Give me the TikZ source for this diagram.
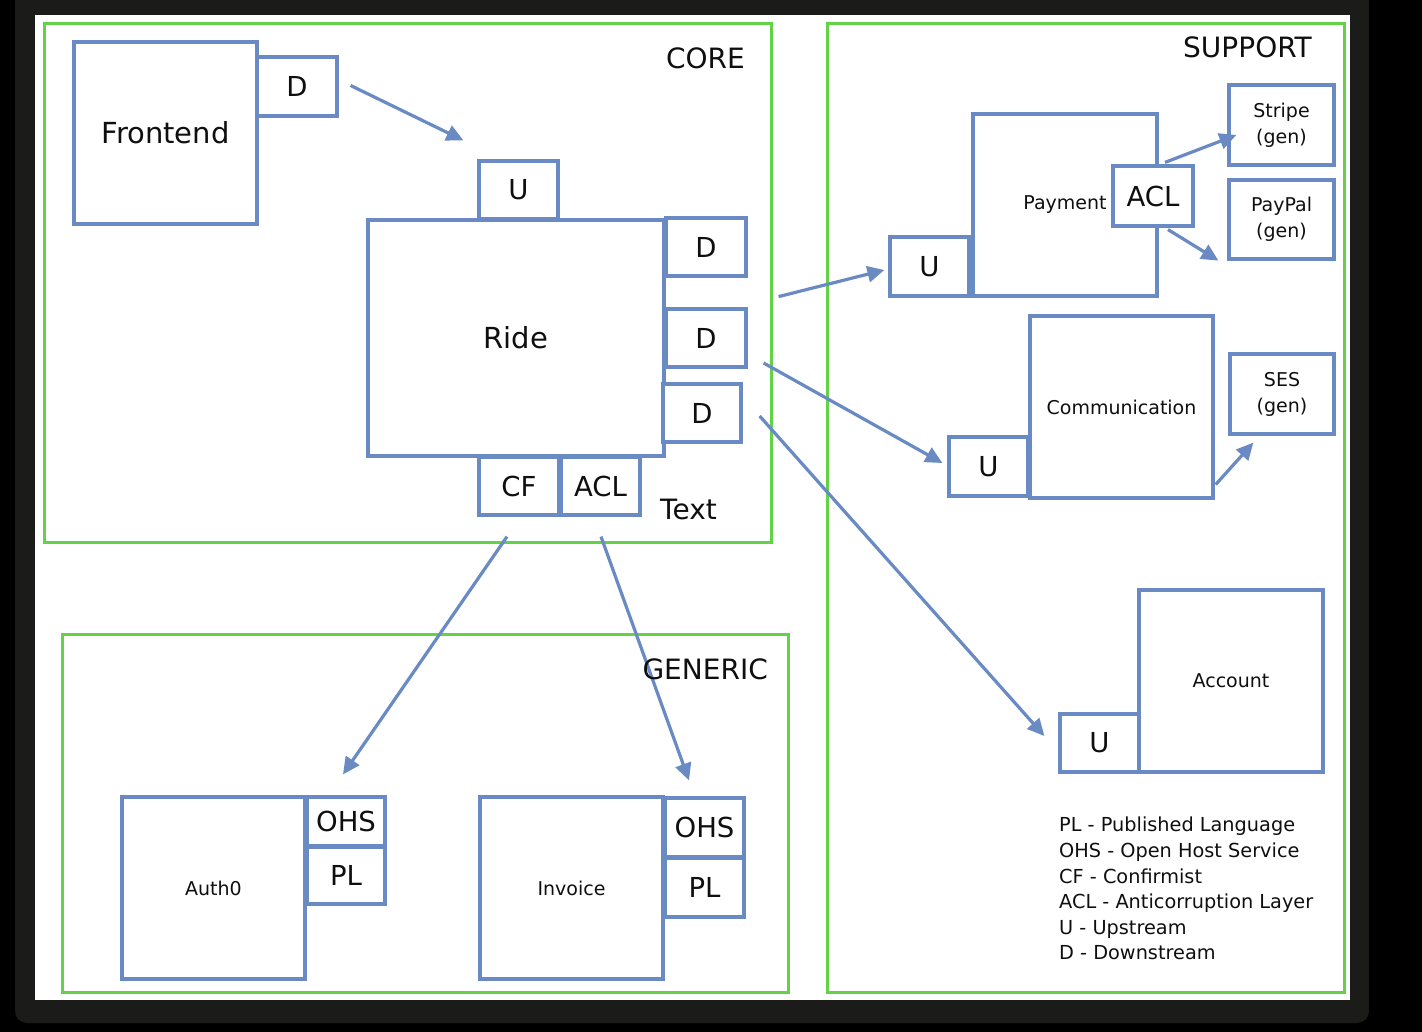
\documentclass[tikz,border=0pt]{standalone}
\usepackage{fontspec}
\setmainfont{DejaVu Sans}
\usetikzlibrary{arrows.meta}
\definecolor{grn}{RGB}{100,210,70}
\definecolor{blu}{RGB}{106,138,196}
\definecolor{framec}{RGB}{27,27,25}
\definecolor{ink}{RGB}{15,15,15}
\tikzset{
  zone/.style={draw=grn,line width=3pt},
  bbox/.style={draw=blu,fill=white,line width=3.2pt,inner sep=0pt,text=ink,align=center},
  big/.style={font=\fontsize{29}{34}\selectfont},
  tag/.style={font=\fontsize{27.5}{32}\selectfont},
  small/.style={font=\fontsize{19}{26}\selectfont},
  ztitle/.style={font=\fontsize{28}{32}\selectfont,text=ink,inner sep=0pt},
  arr/.style={draw=blu,line width=3.2pt,-{Triangle[length=17pt,width=16pt]}},
}
\newcommand\bx[7]{\node[bbox,#7,minimum width={#4-#2},minimum height={#5-#3}] (#1) at ({(#2+#4)/2},{(#3+#5)/2}) {#6};}
\begin{document}
\begin{tikzpicture}[x=1pt,y=-1pt]
\useasboundingbox (0,0) rectangle (1422,1032);
% frame
\fill[black] (0,0) rectangle (1422,1032);
\fill[framec,rounded corners=12] (15,-20) rectangle (1369,1023);
\fill[white] (35,15) rectangle (1350,1000);
% zones
\draw[zone] (44,24) rectangle (771,542);
\draw[zone] (827,24) rectangle (1344,992);
\draw[zone] (62,634) rectangle (788,992);
% core
\bx{fe}{74}{42}{257}{224}{Frontend}{big}
\bx{feD}{257}{57}{337}{116}{D}{tag}
\bx{rU}{479}{161}{558}{219}{U}{tag}
\bx{ride}{368}{220}{664}{456}{Ride}{big}
\bx{rD1}{666}{218}{746}{276}{D}{tag}
\bx{rD2}{666}{309}{746}{367}{D}{tag}
\bx{rD3}{663}{384}{741}{442}{D}{tag}
\bx{rCF}{479}{457}{559}{515}{CF}{tag}
\bx{rACL}{561}{457}{640}{515}{ACL}{tag}
% support
\bx{pay}{973}{114}{1157}{296}{Payment}{small}
\bx{pU}{890}{237}{969}{296}{U}{tag}
\bx{pACL}{1113}{166}{1193}{226}{ACL}{tag}
\bx{stripe}{1229}{85}{1334}{165}{Stripe\\(gen)}{small}
\bx{paypal}{1229}{180}{1334}{259}{PayPal\\(gen)}{small}
\bx{comm}{1030}{316}{1213}{498}{Communication}{small}
\bx{cU}{949}{437}{1028}{496}{U}{tag}
\bx{ses}{1230}{354}{1334}{434}{SES\\(gen)}{small}
\bx{acc}{1139}{590}{1323}{772}{Account}{small}
\bx{aU}{1060}{714}{1139}{772}{U}{tag}
% generic
\bx{auth}{122}{797}{305}{979}{Auth0}{small}
\bx{aOHS}{307}{797}{385}{846}{OHS}{tag}
\bx{aPL}{307}{847}{385}{904}{PL}{tag}
\bx{inv}{480}{797}{663}{979}{Invoice}{small}
\bx{iOHS}{665}{798}{744}{857}{OHS}{tag}
\bx{iPL}{665}{858}{744}{917}{PL}{tag}
% arrows
\draw[arr] ([shift={(12,-1)}]feD.east) -- ([shift={(-14,-19)}]rU.north west);
\draw[arr] ([shift={(31,19)}]rD1.south east) -- ([shift={(-4,3.5)}]pU.west);
\draw[arr] ([shift={(16,25)}]rD2.east) -- ([shift={(-5,-3.5)}]cU.west);
\draw[arr] ([shift={(17,3)}]rD3.east) -- ([shift={(-14,-7)}]aU.west);
\draw[arr] ([shift={(12,-2)}]pACL.north) -- ([shift={(9,10)}]stripe.west);
\draw[arr] ([shift={(15,2)}]pACL.south) -- ([shift={(-9,0)}]paypal.south west);
\draw[arr] ([shift={(1,-15)}]comm.south east) -- ([shift={(25,7)}]ses.south west);
\draw[arr] ([shift={(-12,20)}]rCF.south) -- ([shift={(-3,-21)}]aOHS.north);
\draw[arr] ([shift={(0.5,20)}]rACL.south) -- ([shift={(-15.5,-16)}]iOHS.north);
% titles
\node[ztitle,anchor=east] (tcore) at (745,58) {CORE};
\node[ztitle,anchor=east] (tsup) at (1312,47) {SUPPORT};
\node[ztitle,anchor=east] (tgen) at (768,669) {GENERIC};
\node[ztitle,anchor=west] (ttext) at (660,509) {Text};
% legend
\node[anchor=north west,inner sep=0pt,align=left,text=ink,font=\fontsize{19.3}{25.6}\selectfont] (legend) at (1059,817)
 {PL - Published Language\\OHS - Open Host Service\\CF - Confirmist\\ACL - Anticorruption Layer\\U - Upstream\\D - Downstream};
\end{tikzpicture}
\end{document}
